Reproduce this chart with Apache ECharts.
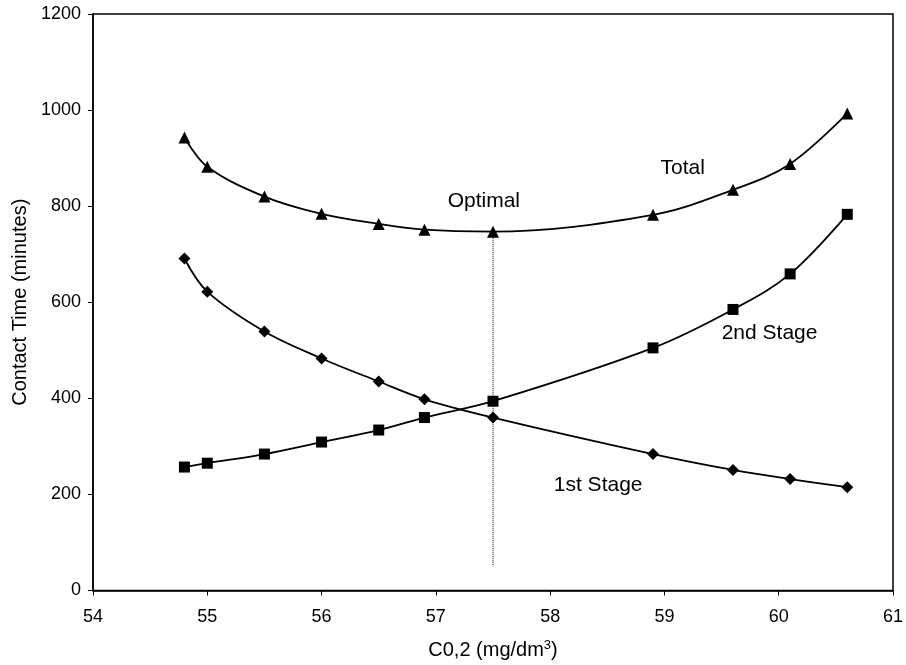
<!DOCTYPE html>
<html>
<head>
<meta charset="utf-8">
<script src="https://cdn.jsdelivr.net/npm/echarts@6/dist/echarts.min.js"></script>
<style>
html,body{margin:0;padding:0;background:#fff;}
#chart{width:906px;height:665px;}
</style>
</head>
<body>
<div id="chart"></div>
<script>
var concentration = [54.8, 55.0, 55.5, 56.0, 56.5, 56.9, 57.5, 58.9, 59.6, 60.1, 60.6];
var totalTime = [943, 882, 820, 784, 763, 751, 747, 782, 834, 888, 993];
var stage2Time = [257, 265, 284, 309, 334, 360, 394, 505, 585, 659, 783];
var stage1Time = [691, 622, 539, 483, 435, 398, 360, 284, 251, 232, 215];
var optimalX = [57.5, 57.5];
var optimalY = [750, 50];
var labelNames = ['Total', 'Optimal', '2nd Stage', '1st Stage'];
var labelX = [59.16, 57.42, 59.92, 58.42];
var labelY = [878, 811, 535, 219];

function pairs(xs, ys) { return xs.map(function (x, i) { return [x, ys[i]]; }); }

var FONT = 'Liberation Sans, Arial, sans-serif';
var chart = echarts.init(document.getElementById('chart'));
var lineBase = { type: 'line', smooth: 0.35, color: '#000', lineStyle: { color: '#000', width: 1.8 }, itemStyle: { color: '#000', opacity: 1 }, z: 3 };

chart.setOption({
  animation: false,
  backgroundColor: '#fff',
  textStyle: { fontFamily: FONT },
  grid: { left: 93, right: 12, top: 14, bottom: 73, show: true, borderColor: '#000', borderWidth: 1.5, containLabel: false },
  xAxis: {
    type: 'value', min: 54, max: 61, interval: 1,
    name: 'C0,2 (mg/dm{sup|3})', nameLocation: 'middle', nameGap: 48,
    nameTextStyle: { fontSize: 20, color: '#000', fontFamily: FONT, rich: { sup: { fontSize: 13, padding: [0, 0, 10, 0], color: '#000', fontFamily: FONT } } },
    axisLine: { lineStyle: { color: '#000', width: 1.5 } },
    axisTick: { show: true, inside: false, length: 5, lineStyle: { color: '#000' } },
    axisLabel: { fontSize: 18, color: '#000', margin: 18, fontFamily: FONT, formatter: function (v) { return String(v); } },
    splitLine: { show: false }
  },
  yAxis: {
    type: 'value', min: 0, max: 1200, interval: 200,
    name: 'Contact Time (minutes)', nameLocation: 'middle', nameGap: 60,
    nameTextStyle: { fontSize: 20, color: '#000', fontFamily: FONT },
    axisLine: { show: true, lineStyle: { color: '#000', width: 1.5 } },
    axisTick: { show: true, inside: false, length: 5, lineStyle: { color: '#000' } },
    axisLabel: { fontSize: 18, color: '#000', margin: 12, fontFamily: FONT, formatter: function (v) { return String(v); } },
    splitLine: { show: false }
  },
  series: [
    Object.assign({}, lineBase, { name: 'Total', data: pairs(concentration, totalTime), symbol: 'triangle', symbolSize: 12 }),
    Object.assign({}, lineBase, { name: '2nd Stage', data: pairs(concentration, stage2Time), symbol: 'rect', symbolSize: 11 }),
    Object.assign({}, lineBase, { name: '1st Stage', data: pairs(concentration, stage1Time), symbol: 'diamond', symbolSize: 12 }),
    { name: 'Optimal line', type: 'line', data: pairs(optimalX, optimalY), symbol: 'none', z: 2,
      lineStyle: { color: '#000', width: 1, type: [1, 1] } },
    { name: 'labels', type: 'scatter', symbolSize: 0, z: 5, itemStyle: { opacity: 1, color: '#000' },
      data: labelNames.map(function (n, i) { return { name: n, value: [labelX[i], labelY[i]] }; }),
      label: { show: true, position: 'inside', opacity: 1, formatter: function (p) { return p.name; }, fontSize: 21, color: '#000', fontFamily: FONT } }
  ]
});
</script>
</body>
</html>
